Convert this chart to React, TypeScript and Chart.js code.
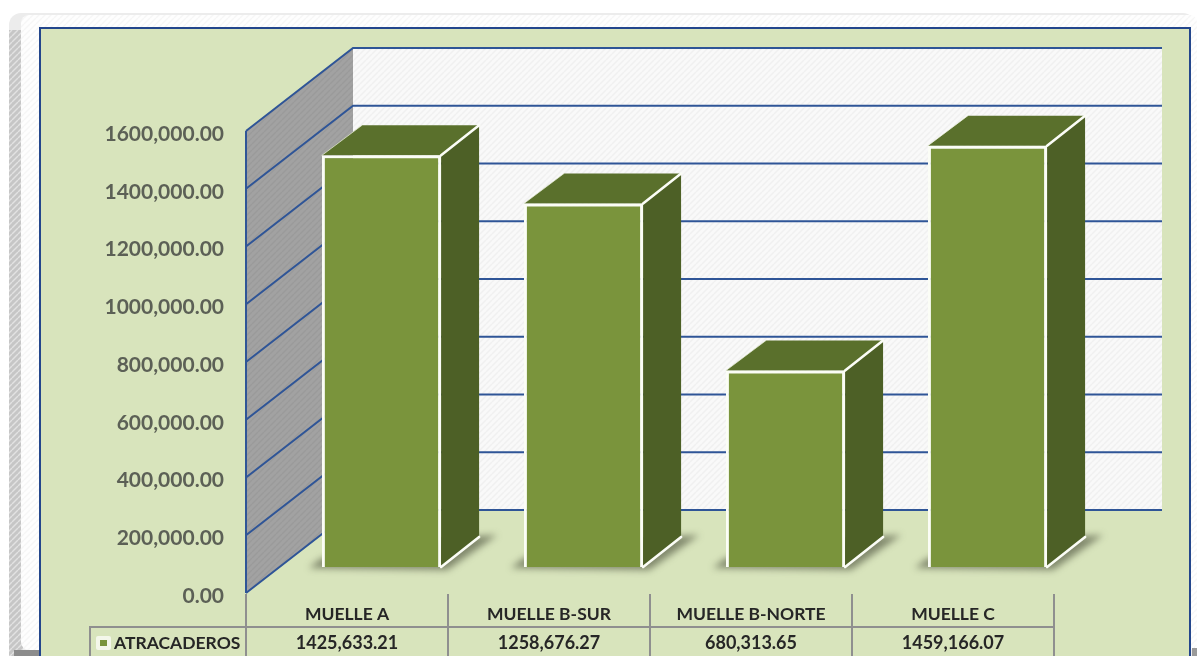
import React, { useEffect, useRef } from "react";
import { Chart, registerables } from "chart.js";

Chart.register(...registerables);

const categories = ["MUELLE A", "MUELLE B-SUR", "MUELLE B-NORTE", "MUELLE C"];
const atracaderos = [1425633.21, 1258676.27, 680313.65, 1459166.07];
const seriesName = "ATRACADEROS";
const yMax = 1600000;
const yStep = 200000;

const FONT = "Lato, 'Open Sans', sans-serif";
const WALL = { dx: 107, dy: -83 };
const BAR_SHIFT = { dx: 34.5, dy: -26 };
const DEPTH = { dx: 38, dy: -30 };
const WALL_RIGHT = 1162;
const BLUE = "#2f5597";
const GRID = "#8f8f8f";

function fmt(v: number, decimals = 2) {
  const fixed = v.toFixed(decimals);
  const [i, d] = fixed.split(".");
  if (i.length <= 3) return `${i}.${d}`;
  return `${i.slice(0, -3)},${i.slice(-3)}.${d}`;
}

function hatch(ctx: CanvasRenderingContext2D, bg: string, fg: string) {
  const c = document.createElement("canvas");
  c.width = 6;
  c.height = 6;
  const g = c.getContext("2d")!;
  g.fillStyle = bg;
  g.fillRect(0, 0, 6, 6);
  g.strokeStyle = fg;
  g.lineWidth = 1.4;
  for (let k = -6; k <= 12; k += 6) {
    g.beginPath();
    g.moveTo(k, 6);
    g.lineTo(k + 6, 0);
    g.stroke();
  }
  return ctx.createPattern(c, "repeat")!;
}

function poly(ctx: CanvasRenderingContext2D, pts: number[][], fill?: any) {
  ctx.beginPath();
  pts.forEach((p, i) => (i ? ctx.lineTo(p[0], p[1]) : ctx.moveTo(p[0], p[1])));
  ctx.closePath();
  if (fill) {
    ctx.fillStyle = fill;
    ctx.fill();
  }
}

const framePlugin = {
  id: "frame",
  beforeDraw(chart: any) {
    const ctx: CanvasRenderingContext2D = chart.ctx;
    ctx.save();
    ctx.fillStyle = "#ffffff";
    ctx.fillRect(0, 0, 1197, 656);
    // outer panel: pale along the top, grey hatch down the left side
    ctx.beginPath();
    ctx.roundRect(9, 13, 1186, 660, 12);
    ctx.fillStyle = "#ececec";
    ctx.fill();
    ctx.save();
    ctx.beginPath();
    ctx.roundRect(9, 13, 1186, 660, 12);
    ctx.clip();
    ctx.fillStyle = hatch(ctx, "#c6c6c6", "#e2e2e2");
    ctx.fillRect(9, 30, 14, 630);
    ctx.fillStyle = "#8c8c8c";
    ctx.fillRect(14, 650, 30, 8);
    ctx.restore();
    ctx.beginPath();
    ctx.roundRect(21, 15, 1176, 635, 8);
    ctx.fillStyle = hatch(ctx, "#fefefe", "#f6f6f6");
    ctx.fill();
    ctx.fillStyle = "#9a9a9a";
    ctx.fillRect(1192, 648, 5, 8);
    // green plate
    ctx.fillStyle = "#d8e4bc";
    ctx.fillRect(40, 28, 1150, 640);
    ctx.strokeStyle = "#23468c";
    ctx.lineWidth = 2;
    ctx.strokeRect(40, 28, 1150, 640);
    ctx.restore();
  },
};

const wallPlugin = {
  id: "walls",
  beforeDatasetsDraw(chart: any) {
    const ctx: CanvasRenderingContext2D = chart.ctx;
    const { left } = chart.chartArea;
    const y = chart.scales.y;
    const top = y.getPixelForValue(yMax);
    const base = y.getPixelForValue(0);
    const bx = left + WALL.dx;
    ctx.save();
    poly(
      ctx,
      [
        [left, top],
        [bx, top + WALL.dy],
        [bx, base + WALL.dy],
        [left, base],
      ],
      hatch(ctx, "#a2a2a2", "#9a9a9a")
    );
    ctx.fillStyle = hatch(ctx, "#f9f9f9", "#f0f0f0");
    ctx.fillRect(bx, top + WALL.dy, WALL_RIGHT - bx, base - top);
    ctx.strokeStyle = BLUE;
    ctx.lineWidth = 2;
    y.ticks.forEach((t: any) => {
      const p = y.getPixelForValue(t.value);
      ctx.beginPath();
      ctx.moveTo(left, p);
      ctx.lineTo(bx, p + WALL.dy);
      ctx.lineTo(WALL_RIGHT, p + WALL.dy);
      ctx.stroke();
    });
    ctx.beginPath();
    ctx.moveTo(left, top);
    ctx.lineTo(left, base);
    ctx.stroke();
    ctx.restore();
  },
};

const tablePlugin = {
  id: "dataTable",
  beforeDatasetsDraw(chart: any) {
    const ctx: CanvasRenderingContext2D = chart.ctx;
    const { left, right, bottom } = chart.chartArea;
    const band = (right - left) / categories.length;
    const rowY = 627;
    ctx.save();
    ctx.strokeStyle = GRID;
    ctx.lineWidth = 2;
    for (let i = 0; i <= categories.length; i++) {
      const x = left + band * i;
      ctx.beginPath();
      ctx.moveTo(x, bottom + 1);
      ctx.lineTo(x, 660);
      ctx.stroke();
    }
    ctx.beginPath();
    ctx.moveTo(90, 660);
    ctx.lineTo(90, rowY);
    ctx.lineTo(right, rowY);
    ctx.stroke();
    // legend key
    ctx.fillStyle = "#f4f7ea";
    ctx.beginPath();
    ctx.roundRect(96, 636, 15, 14, 2);
    ctx.fill();
    ctx.fillStyle = "#7a943c";
    ctx.fillRect(100, 640, 7, 6);
    ctx.fillStyle = "#262626";
    ctx.font = `700 17.5px ${FONT}`;
    ctx.textBaseline = "middle";
    ctx.textAlign = "left";
    ctx.fillText(chart.data.datasets[0].label, 114, 643);
    ctx.textAlign = "center";
    ctx.font = `700 18px ${FONT}`;
    atracaderos.forEach((v, i) => {
      ctx.fillText(fmt(v), left + band * (i + 0.5), 643);
    });
    ctx.restore();
  },
};

const barPlugin = {
  id: "bars3d",
  beforeDatasetsDraw(chart: any) {
    const ctx: CanvasRenderingContext2D = chart.ctx;
    const meta = chart.getDatasetMeta(0);
    ctx.save();
    ctx.translate(BAR_SHIFT.dx, BAR_SHIFT.dy);
    meta.data.forEach((bar: any) => {
      const { x, y, base, width } = bar.getProps(["x", "y", "base", "width"], true);
      const x0 = x - width / 2;
      const x1 = x + width / 2;
      const d = DEPTH;
      // ground shadow
      ctx.save();
      ctx.filter = "blur(3.5px)";
      poly(
        ctx,
        [
          [x0 - 13, base + 1],
          [x0, base - 9],
          [x1 + d.dx, base + d.dy - 1],
          [x1 + d.dx + 18, base + d.dy - 2],
          [x1 + 6, base + 3],
        ],
        "rgba(70,75,55,0.6)"
      );
      ctx.restore();
      // top face
      poly(
        ctx,
        [
          [x0, y],
          [x0 + d.dx + 2, y + d.dy],
          [x1 + d.dx, y + d.dy],
          [x1, y],
        ],
        "#5a702c"
      );
      // side face
      poly(
        ctx,
        [
          [x1, y],
          [x1 + d.dx, y + d.dy],
          [x1 + d.dx, base + d.dy],
          [x1, base],
        ],
        "#4d6026"
      );
      ctx.strokeStyle = "#fbfdf6";
      ctx.lineCap = "round";
      ctx.lineWidth = 2.6;
      ctx.beginPath();
      ctx.moveTo(x1, y);
      ctx.lineTo(x1 + d.dx, y + d.dy);
      ctx.moveTo(x1, base);
      ctx.lineTo(x1 + d.dx, base + d.dy);
      ctx.stroke();
      ctx.lineWidth = 1;
      ctx.strokeStyle = "rgba(240,245,225,0.7)";
      ctx.beginPath();
      ctx.moveTo(x0, y);
      ctx.lineTo(x0 + d.dx + 2, y + d.dy);
      ctx.stroke();
    });
    ctx.restore();
  },
  beforeDatasetDraw(chart: any) {
    chart.ctx.save();
    chart.ctx.translate(BAR_SHIFT.dx, BAR_SHIFT.dy);
  },
  afterDatasetDraw(chart: any) {
    chart.ctx.restore();
  },
};

export default function App() {
  const ref = useRef<HTMLCanvasElement>(null);
  useEffect(() => {
    const chart = new Chart(ref.current!, {
      type: "bar",
      data: {
        labels: categories,
        datasets: [
          {
            label: seriesName,
            data: atracaderos,
            backgroundColor: "#7a943c",
            borderColor: "#fbfdf6",
            borderWidth: 3,
            categoryPercentage: 1,
            barPercentage: 0.59,
            clip: false,
          } as any,
        ],
      },
      options: {
        responsive: false,
        animation: false,
        layout: { padding: { left: 0, top: 131, right: 143, bottom: 0 } },
        plugins: { legend: { display: false }, tooltip: { enabled: false } },
        scales: {
          x: {
            grid: { display: false, drawTicks: false },
            border: { display: false },
            afterFit(scale: any) {
              scale.height = 63;
            },
            ticks: {
              autoSkip: false,
              maxRotation: 0,
              padding: 11,
              color: "#262626",
              font: { family: FONT, size: 17.5, weight: "700" },
            },
          },
          y: {
            min: 0,
            max: yMax,
            grid: { display: false, drawTicks: false },
            border: { display: false },
            afterFit(scale: any) {
              scale.width = 246;
            },
            ticks: {
              stepSize: yStep,
              padding: 22,
              labelOffset: 3,
              color: "#5c6056",
              font: { family: FONT, size: 21, weight: "700" },
              callback: (v: any) => fmt(Number(v)),
            },
          },
        },
      },
      plugins: [framePlugin, wallPlugin, tablePlugin, barPlugin],
    } as any);
    return () => chart.destroy();
  }, []);
  return (
    <div style={{ position: "absolute", left: 0, top: 0, width: 1197, height: 656, overflow: "hidden" }}>
      <canvas ref={ref} width={1197} height={656} style={{ display: "block", filter: "blur(0.7px)" }} />
    </div>
  );
}
